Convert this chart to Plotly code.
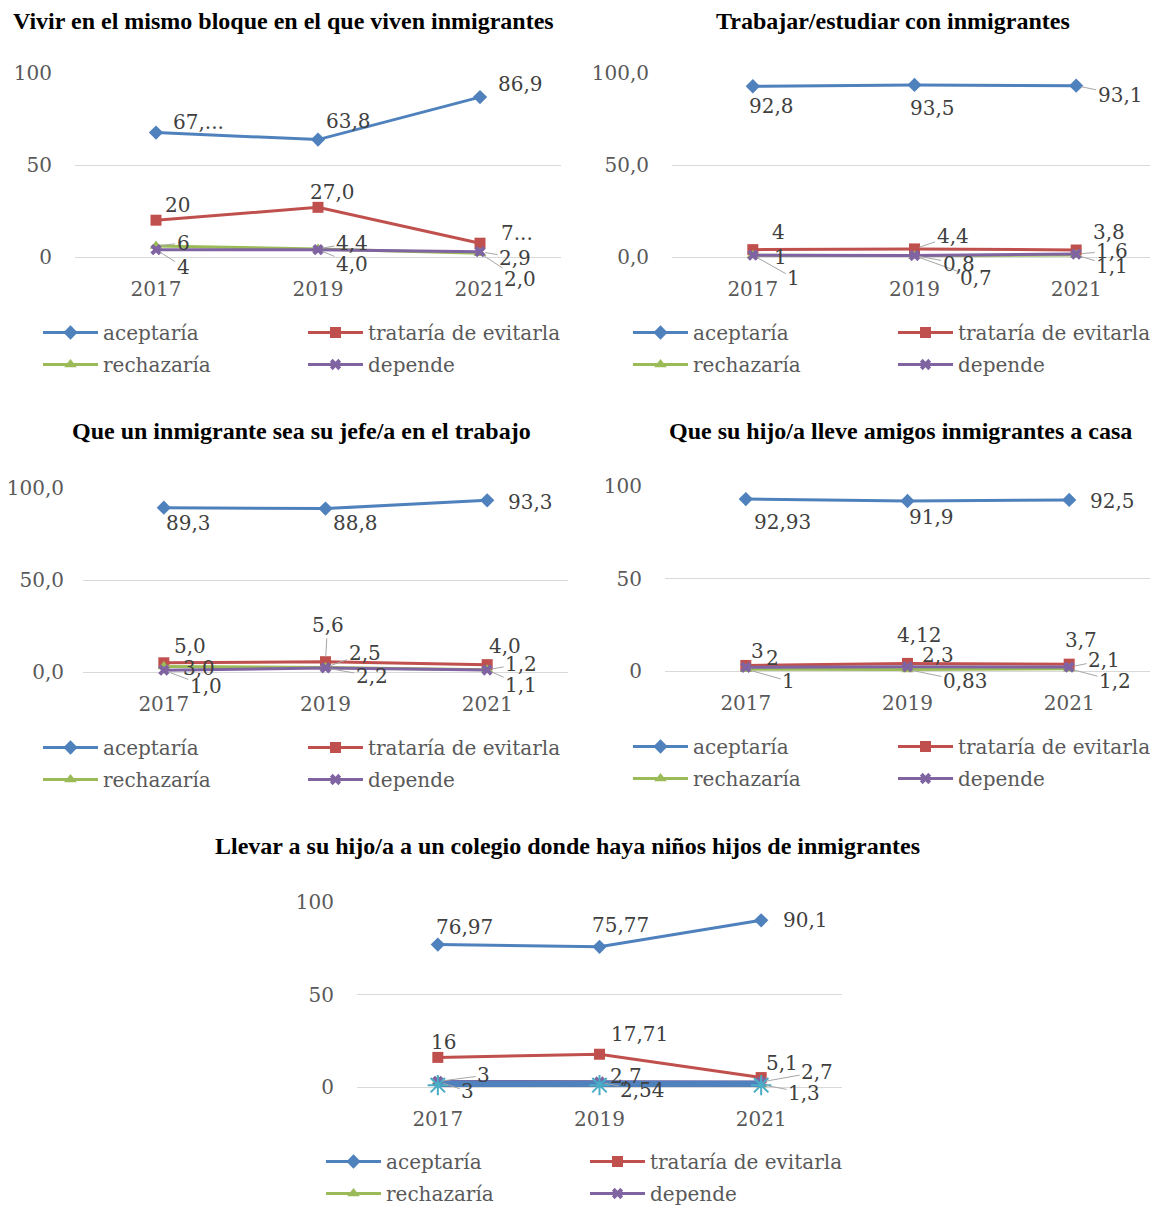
import plotly.graph_objects as go

# la página añade 8 px de margen al body: la figura se dibuja desde (8, 8)
OFF = 8
W, H = 1158 - OFF, 1206

years = ["2017", "2019", "2021"]
series_names = ["aceptaría", "trataría de evitarla", "rechazaría", "depende"]
colors = ["#4F81BD", "#C0504D", "#9BBB59", "#8064A2"]
symbols = ["diamond", "square", "triangle-up", "x"]

# --- datos ---
# Vivir en el mismo bloque
bloque_aceptaria = [67.6, 63.8, 86.9]
bloque_trataria = [20, 27.0, 7.5]
bloque_rechazaria = [6, 4.4, 2.0]
bloque_depende = [4, 4.0, 2.9]
bloque_textos = [["67,...", "63,8", "86,9"], ["20", "27,0", "7..."],
                 ["6", "4,4", "2,0"], ["4", "4,0", "2,9"]]

# Trabajar/estudiar
trabajo_aceptaria = [92.8, 93.5, 93.1]
trabajo_trataria = [4, 4.4, 3.8]
trabajo_rechazaria = [1, 0.7, 1.1]
trabajo_depende = [1, 0.8, 1.6]
trabajo_textos = [["92,8", "93,5", "93,1"], ["4", "4,4", "3,8"],
                  ["1", "0,7", "1,1"], ["1", "0,8", "1,6"]]

# Jefe/a en el trabajo
jefe_aceptaria = [89.3, 88.8, 93.3]
jefe_trataria = [5.0, 5.6, 4.0]
jefe_rechazaria = [3.0, 2.5, 1.2]
jefe_depende = [1.0, 2.2, 1.1]
jefe_textos = [["89,3", "88,8", "93,3"], ["5,0", "5,6", "4,0"],
               ["3,0", "2,5", "1,2"], ["1,0", "2,2", "1,1"]]

# Amigos inmigrantes a casa
amigos_aceptaria = [92.93, 91.9, 92.5]
amigos_trataria = [3, 4.12, 3.7]
amigos_rechazaria = [1, 0.83, 1.2]
amigos_depende = [2, 2.3, 2.1]
amigos_textos = [["92,93", "91,9", "92,5"], ["3", "4,12", "3,7"],
                 ["1", "0,83", "1,2"], ["2", "2,3", "2,1"]]

# Colegio
colegio_aceptaria = [76.97, 75.77, 90.1]
colegio_trataria = [16, 17.71, 5.1]
colegio_rechazaria = [3, 2.54, 1.3]
colegio_depende = [3, 2.7, 2.7]
colegio_extra_linea = [1, 1, 1]
colegio_extra_marca = [1, 1, 1]
colegio_textos = [["76,97", "75,77", "90,1"], ["16", "17,71", "5,1"],
                  ["3", "2,54", "1,3"], ["3", "2,7", "2,7"]]

# desplazamiento (px) de cada etiqueta y si lleva línea guía
offsets = {
    1: [[(42, -11, 0), (30, -19, 0), (40, -13, 0)],
        [(21, -15, 0), (14, -15, 0), (37, -10, 0)],
        [(27, -3, 1), (34, -6, 1), (40, 26, 1)],
        [(27, 17, 1), (34, 14, 1), (35, 6, 1)]],
    2: [[(19, 20, 0), (18, 23, 0), (44, 9, 1)],
        [(26, -18, 0), (38, -13, 1), (33, -18, 0)],
        [(41, 23, 1), (61, 22, 1), (36, 11, 1)],
        [(28, 2, 0), (44, 8, 1), (36, -3, 1)]],
    3: [[(25, 15, 0), (30, 14, 0), (43, 2, 0)],
        [(26, -17, 0), (2, -37, 1), (18, -19, 0)],
        [(35, 2, 0), (39, -14, 1), (34, -6, 1)],
        [(42, 16, 1), (46, 8, 1), (34, 15, 1)]],
    4: [[(37, 23, 0), (24, 16, 0), (43, 1, 0)],
        [(12, -14, 1), (12, -28, 0), (12, -24, 0)],
        [(43, 12, 1), (58, 12, 1), (46, 12, 1)],
        [(27, -9, 0), (30, -12, 0), (35, -7, 1)]],
    5: [[(27, -18, 0), (21, -22, 0), (44, 0, 0)],
        [(6, -15, 0), (40, -20, 0), (21, -15, 0)],
        [(30, 10, 1), (43, 8, 1), (43, 8, 1)],
        [(46, -6, 1), (26, -6, 0), (56, -10, 1)]],
}

charts = [
    dict(title="Vivir en el mismo bloque en el que viven inmigrantes",
         series=[bloque_aceptaria, bloque_trataria, bloque_rechazaria, bloque_depende],
         textos=bloque_textos, px=(75, 561), py=(73, 257), fmt="", ylen=18,
         title_xy=(283, 21), leg_x=(43, 308), leg_y=333),
    dict(title="Trabajar/estudiar con inmigrantes",
         series=[trabajo_aceptaria, trabajo_trataria, trabajo_rechazaria, trabajo_depende],
         textos=trabajo_textos, px=(672, 1157), py=(73, 257), fmt=".1f", ylen=18,
         title_xy=(893, 21), leg_x=(633, 898), leg_y=333),
    dict(title="Que un inmigrante sea su jefe/a en el trabajo",
         series=[jefe_aceptaria, jefe_trataria, jefe_rechazaria, jefe_depende],
         textos=jefe_textos, px=(83, 568), py=(488, 672), fmt=".1f", ylen=14,
         title_xy=(301, 431), leg_x=(43, 308), leg_y=748),
    dict(title="Que su hijo/a lleve amigos inmigrantes a casa",
         series=[amigos_aceptaria, amigos_trataria, amigos_rechazaria, amigos_depende],
         textos=amigos_textos, px=(665, 1150), py=(486, 671), fmt="", ylen=18,
         title_xy=(900, 431), leg_x=(633, 898), leg_y=747),
    dict(title="Llevar a su hijo/a a un colegio donde haya niños hijos de inmigrantes",
         series=[colegio_aceptaria, colegio_trataria, colegio_rechazaria, colegio_depende],
         textos=colegio_textos, px=(357, 842), py=(902, 1087), fmt="", ylen=18,
         title_xy=(567, 846), leg_x=(326, 590), leg_y=1162),
]


def fx(p):
    return (p - OFF) / W


def fy(p):
    return 1 - (p - OFF) / H


SERIF = "DejaVu Serif"
fig = go.Figure()
annotations = []
layout = {}

for i, ch in enumerate(charts, start=1):
    sfx = "" if i == 1 else str(i)
    xa, ya = "x" + sfx, "y" + sfx
    leg_a = "legend" if i == 1 else f"legend{2 * i - 1}"
    leg_b = f"legend{2 * i}"

    for k, vals in enumerate(ch["series"]):
        fig.add_trace(go.Scatter(
            x=years, y=vals, xaxis=xa, yaxis=ya, name=series_names[k],
            mode="lines+markers", cliponaxis=False,
            line=dict(color=colors[k], width=3),
            marker=dict(symbol=symbols[k], size=11 if k != 3 else 10, color=colors[k]),
            legend=leg_a if k in (0, 2) else leg_b,
            legendgroup=f"g{i}{k}",
        ))
    # series extra (sin leyenda) del último gráfico
    if i == 5:
        fig.add_trace(go.Scatter(x=years, y=colegio_extra_linea, xaxis=xa, yaxis=ya,
                                 mode="lines", line=dict(color="#4F81BD", width=9),
                                 showlegend=False, cliponaxis=False, hoverinfo="skip"))
        fig.add_trace(go.Scatter(x=years, y=colegio_extra_marca, xaxis=xa, yaxis=ya,
                                 mode="markers", marker=dict(symbol="asterisk-open", size=17,
                                 color="#4BACC6", line=dict(color="#4BACC6", width=2)),
                                 showlegend=False, cliponaxis=False, hoverinfo="skip"))

    # ejes
    layout["xaxis" + sfx] = dict(
        domain=[fx(ch["px"][0]), fx(ch["px"][1])], anchor=ya, type="category",
        range=[-0.5, 2.5], showgrid=False, showline=False, zeroline=False,
        ticks="outside", ticklen=14, tickcolor="rgba(0,0,0,0)", automargin=False,
        tickfont=dict(family=SERIF, size=20, color="#595959"), fixedrange=True)
    layout["yaxis" + sfx] = dict(
        domain=[fy(ch["py"][1]), fy(ch["py"][0])], anchor=xa,
        range=[0, 100], tickvals=[0, 50, 100], tickformat=ch["fmt"],
        showgrid=True, gridcolor="#D9D9D9", gridwidth=1, automargin=False,
        zeroline=True, zerolinecolor="#D9D9D9", zerolinewidth=1, showline=False,
        ticks="outside", ticklen=ch["ylen"], tickcolor="rgba(0,0,0,0)",
        tickfont=dict(family=SERIF, size=20, color="#595959"), fixedrange=True)

    # leyendas (dos columnas)
    for leg, lx in ((leg_a, ch["leg_x"][0]), (leg_b, ch["leg_x"][1])):
        layout[leg] = dict(
            x=fx(lx - 5), y=fy(ch["leg_y"] - 20), xanchor="left", yanchor="top",
            orientation="v", tracegroupgap=3, bgcolor="rgba(0,0,0,0)",
            font=dict(family=SERIF, size=20, color="#595959"), itemwidth=55)

    # título
    annotations.append(dict(
        text=f"<b>{ch['title']}</b>", x=fx(ch["title_xy"][0]), y=fy(ch["title_xy"][1]),
        xref="paper", yref="paper", showarrow=False, xanchor="center", yanchor="middle",
        font=dict(family="Liberation Serif", size=24, color="#000000")))

    # etiquetas de datos
    for k, vals in enumerate(ch["series"]):
        for j, v in enumerate(vals):
            dx, dy, guide = offsets[i][k][j]
            annotations.append(dict(
                x=j, y=v, xref=xa, yref=ya, text=ch["textos"][k][j],
                showarrow=True, ax=dx, ay=dy, arrowhead=0, arrowwidth=1, standoff=5,
                arrowcolor="#A6A6A6" if guide else "rgba(0,0,0,0)",
                font=dict(family=SERIF, size=20, color="#404040")))

fig.update_layout(
    width=W, height=H, margin=dict(l=0, r=0, t=0, b=0),
    paper_bgcolor="white", plot_bgcolor="white", separators=",.",
    annotations=annotations, **layout)

fig.write_html("out.html")
